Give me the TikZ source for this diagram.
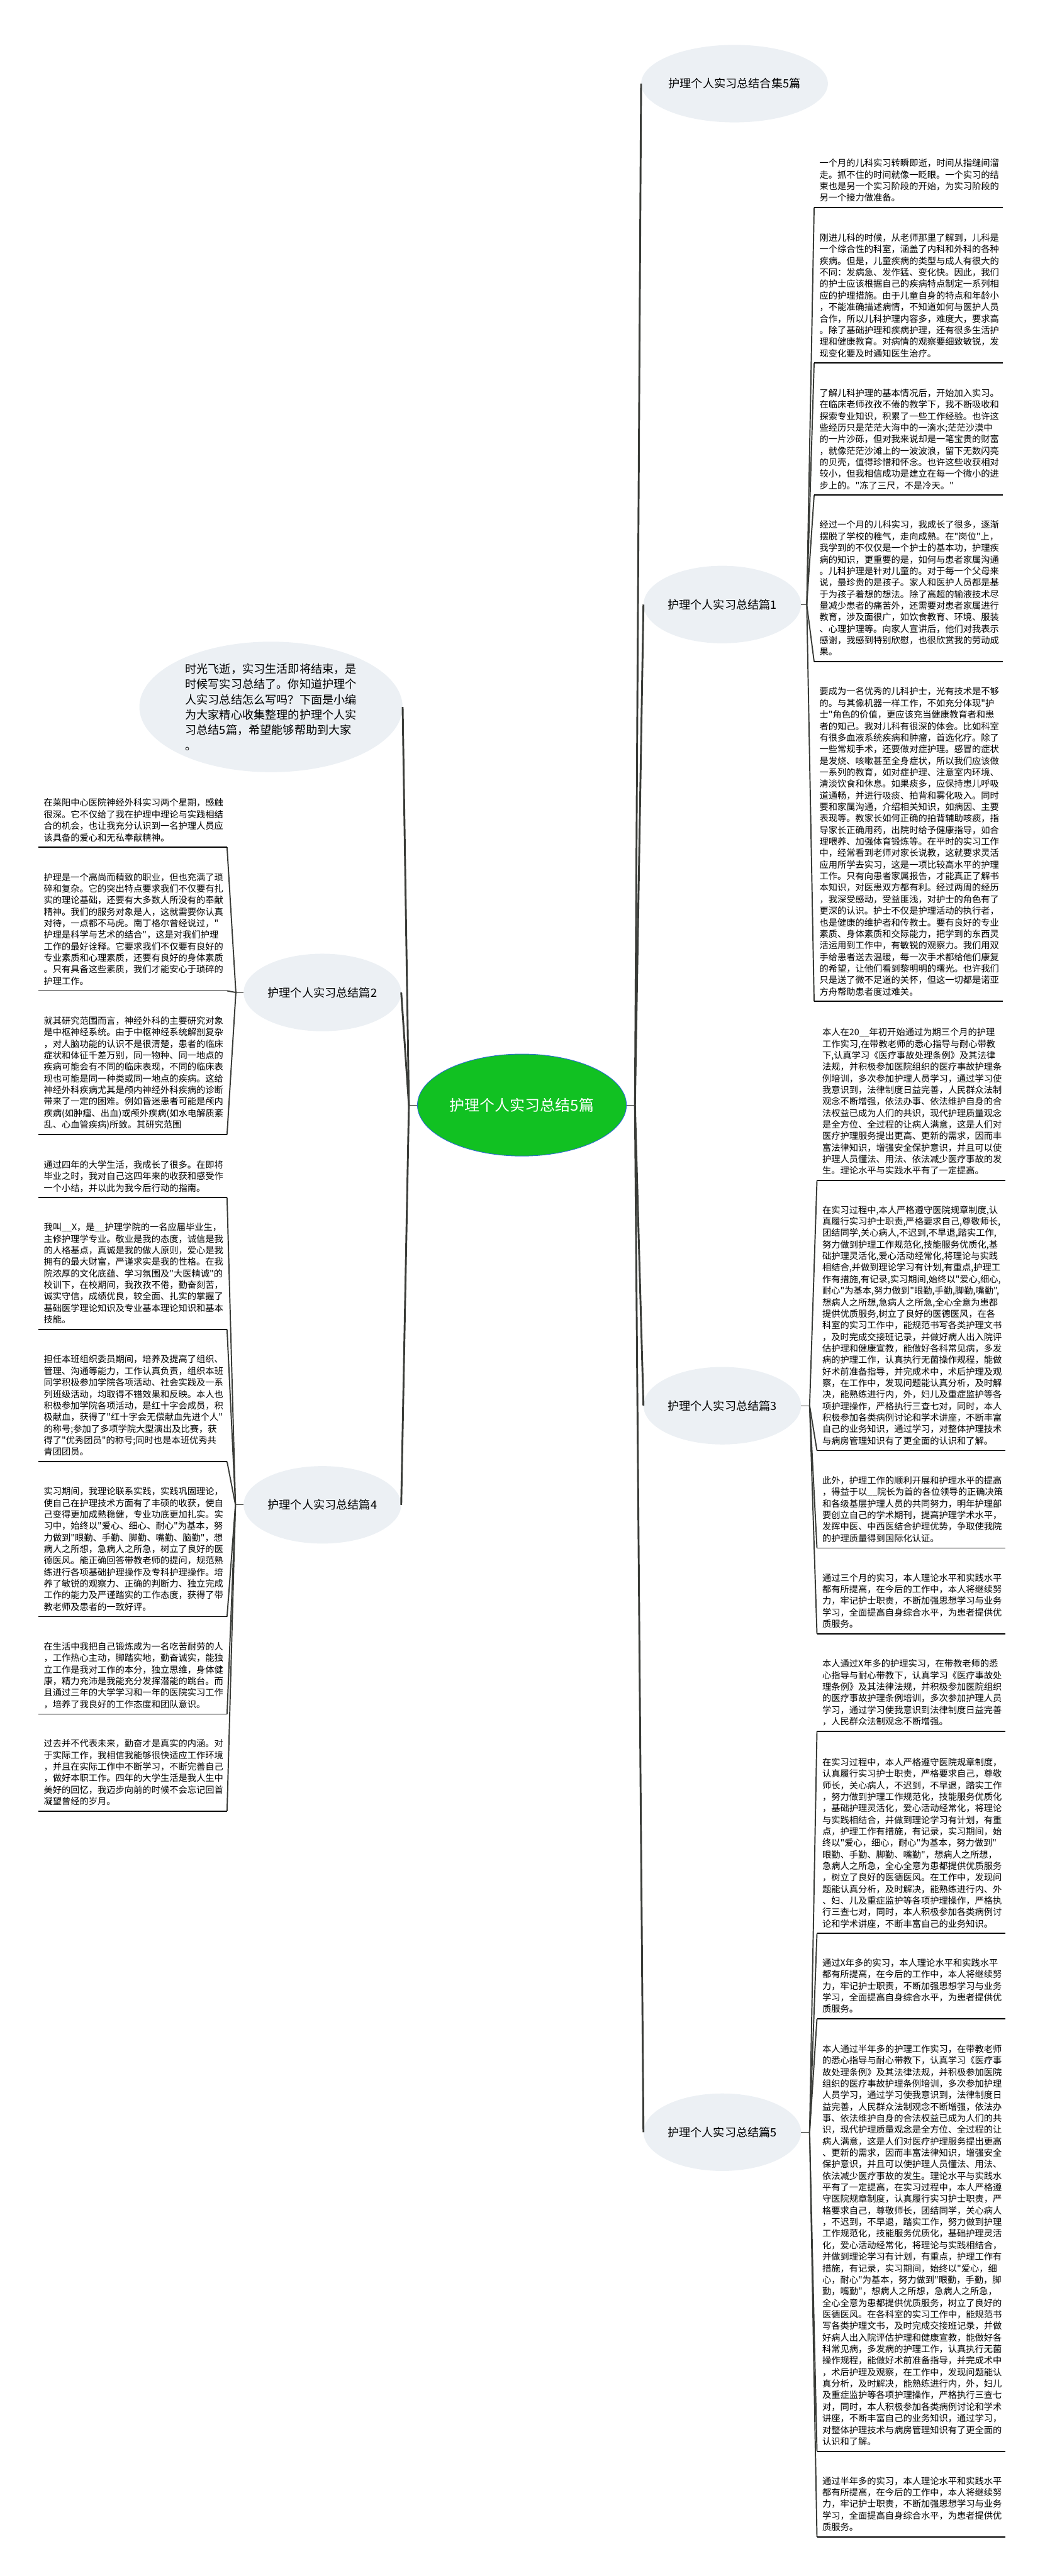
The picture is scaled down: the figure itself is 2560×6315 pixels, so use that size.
\documentclass[tikz,border=0pt]{standalone}
\usepackage{fontspec}
\usepackage{tikz}
\usetikzlibrary{shapes.geometric}
\newfontfamily\cjk{Noto Sans CJK SC}
\definecolor{rootgreen}{RGB}{17,193,34}
\definecolor{rootblue}{RGB}{46,110,210}
\definecolor{bubblegray}{RGB}{236,240,244}
\definecolor{linegray}{RGB}{58,60,56}
\tikzset{
    root-bubble/.style = {ellipse, fill=rootgreen, draw=rootblue, line width=1.5pt, text=white, minimum width=512pt, minimum height=250pt, inner sep=0pt, font=\cjk\fontsize{37pt}{44pt}\selectfont},
    topic-bubble/.style = {ellipse, fill=bubblegray, minimum width=386pt, minimum height=190pt, inner sep=0pt, font=\cjk\fontsize{28pt}{34pt}\selectfont},
    intro-bubble/.style = {ellipse, fill=bubblegray, minimum width=645pt, minimum height=320pt, inner sep=0pt, align=left, font=\cjk\fontsize{28pt}{37.5pt}\selectfont},
    leaf-text/.style = {inner xsep=13pt, inner ysep=7pt, text width=436pt, align=left, font=\cjk\fontsize{22pt}{28.3pt}\selectfont, execute at end node=\strut},
    trunk-line/.style = {draw=linegray, line width=4.5pt},
    leaf-line/.style = {draw=linegray, line width=3pt},
    stub-line/.style = {draw=linegray, line width=1.5pt},
    under-line/.style = {draw=black, line width=3pt},
}

\begin{document}
\begin{tikzpicture}[x=1pt, y=-1pt]
\useasboundingbox (0,0) rectangle (2560,6315);

% root and first level
\node[root-bubble] (root) at (1279,2709) {护理个人实习总结5篇};
\node[intro-bubble] (intro) at (664,1733) {时光飞逝，实习生活即将结束，是\\时候写实习总结了。你知道护理个\\人实习总结怎么写吗？下面是小编\\为大家精心收集整理的护理个人实\\习总结5篇，希望能够帮助到大家\\。};
\node[topic-bubble] (p2) at (790,2433) {护理个人实习总结篇2};
\node[topic-bubble] (p4) at (790,3689) {护理个人实习总结篇4};
\node[topic-bubble, minimum width=446pt] (p0) at (1800,205) {护理个人实习总结合集5篇};
\node[topic-bubble] (p1) at (1770,1482) {护理个人实习总结篇1};
\node[topic-bubble] (p3) at (1770,3446) {护理个人实习总结篇3};
\node[topic-bubble] (p5) at (1770,5227) {护理个人实习总结篇5};

\coordinate (hubL) at (1002,2709);
\coordinate (hubR) at (1556,2709);
\coordinate (hub1) at (1977,1482);
\coordinate (hub3) at (1984,3446);
\coordinate (hub5) at (1984,5227);
\coordinate (hub2) at (578,2433);
\coordinate (hub4) at (577,3689);

% part 1
\node[leaf-text, anchor=south west] (b1) at (1995,509) {一个月的儿科实习转瞬即逝，时间从指缝间溜\\走。抓不住的时间就像一眨眼。一个实习的结\\束也是另一个实习阶段的开始，为实习阶段的\\另一个接力做准备。};
\node[leaf-text, anchor=south west] (b2) at (1995,890) {刚进儿科的时候，从老师那里了解到，儿科是\\一个综合性的科室，涵盖了内科和外科的各种\\疾病。但是，儿童疾病的类型与成人有很大的\\不同：发病急、发作猛、变化快。因此，我们\\的护士应该根据自己的疾病特点制定一系列相\\应的护理措施。由于儿童自身的特点和年龄小\\，不能准确描述病情，不知道如何与医护人员\\合作，所以儿科护理内容多，难度大，要求高\\。除了基础护理和疾病护理，还有很多生活护\\理和健康教育。对病情的观察要细致敏锐，发\\现变化要及时通知医生治疗。};
\node[leaf-text, anchor=south west] (b3) at (1995,1214) {了解儿科护理的基本情况后，开始加入实习。\\在临床老师孜孜不倦的教学下，我不断吸收和\\探索专业知识，积累了一些工作经验。也许这\\些经历只是茫茫大海中的一滴水;茫茫沙漠中\\的一片沙砾，但对我来说却是一笔宝贵的财富\\，就像茫茫沙滩上的一波波浪，留下无数闪亮\\的贝壳，值得珍惜和怀念。也许这些收获相对\\较小，但我相信成功是建立在每一个微小的进\\步上的。"冻了三尺，不是冷天。"};
\node[leaf-text, anchor=south west] (b4) at (1995,1622) {经过一个月的儿科实习，我成长了很多，逐渐\\摆脱了学校的稚气，走向成熟。在"岗位"上，\\我学到的不仅仅是一个护士的基本功，护理疾\\病的知识，更重要的是，如何与患者家属沟通\\。儿科护理是针对儿童的。对于每一个父母来\\说，最珍贵的是孩子。家人和医护人员都是基\\于为孩子着想的想法。除了高超的输液技术尽\\量减少患者的痛苦外，还需要对患者家属进行\\教育，涉及面很广，如饮食教育、环境、服装\\、心理护理等。向家人宣讲后，他们对我表示\\感谢，我感到特别欣慰，也很欣赏我的劳动成\\果。};
\node[leaf-text, anchor=south west] (b5) at (1995,2455) {要成为一名优秀的儿科护士，光有技术是不够\\的。与其像机器一样工作，不如充分体现"护\\士"角色的价值，更应该充当健康教育者和患\\者的知己。我对儿科有很深的体会。比如科室\\有很多血液系统疾病和肿瘤，首选化疗。除了\\一些常规手术，还要做对症护理。感冒的症状\\是发烧、咳嗽甚至全身症状，所以我们应该做\\一系列的教育，如对症护理、注意室内环境、\\清淡饮食和休息。如果痰多，应保持患儿呼吸\\道通畅，并进行吸痰、拍背和雾化吸入。同时\\要和家属沟通，介绍相关知识，如病因、主要\\表现等。教家长如何正确的拍背辅助咳痰，指\\导家长正确用药，出院时给予健康指导，如合\\理喂养、加强体育锻炼等。在平时的实习工作\\中，经常看到老师对家长说教，这就要求灵活\\应用所学去实习，这是一项比较高水平的护理\\工作。只有向患者家属报告，才能真正了解书\\本知识，对医患双方都有利。经过两周的经历\\，我深受感动，受益匪浅，对护士的角色有了\\更深的认识。护士不仅是护理活动的执行者，\\也是健康的维护者和传教士。要有良好的专业\\素质、身体素质和交际能力，把学到的东西灵\\活运用到工作中，有敏锐的观察力。我们用双\\手给患者送去温暖，每一次手术都给他们康复\\的希望，让他们看到黎明明的曙光。也许我们\\只是送了微不足道的关怀，但这一切都是诺亚\\方舟帮助患者度过难关。};

% part 3
\node[leaf-text, anchor=south west] (c1) at (2002,2894) {本人在20\_\_年初开始通过为期三个月的护理\\工作实习,在带教老师的悉心指导与耐心带教\\下,认真学习《医疗事故处理条例》及其法律\\法规，并积极参加医院组织的医疗事故护理条\\例培训，多次参加护理人员学习，通过学习使\\我意识到，法律制度日益完善，人民群众法制\\观念不断增强，依法办事、依法维护自身的合\\法权益已成为人们的共识，现代护理质量观念\\是全方位、全过程的让病人满意，这是人们对\\医疗护理服务提出更高、更新的需求，因而丰\\富法律知识，增强安全保护意识，并且可以使\\护理人员懂法、用法、依法减少医疗事故的发\\生。理论水平与实践水平有了一定提高。};
\node[leaf-text, anchor=south west] (c2) at (2002,3556) {在实习过程中,本人严格遵守医院规章制度,认\\真履行实习护士职责,严格要求自己,尊敬师长,\\团结同学,关心病人,不迟到,不早退,踏实工作,\\努力做到护理工作规范化,技能服务优质化,基\\础护理灵活化,爱心活动经常化,将理论与实践\\相结合,并做到理论学习有计划,有重点,护理工\\作有措施,有记录,实习期间,始终以"爱心,细心,\\耐心"为基本,努力做到"眼勤,手勤,脚勤,嘴勤",\\想病人之所想,急病人之所急,全心全意为患都\\提供优质服务,树立了良好的医德医风，在各\\科室的实习工作中，能规范书写各类护理文书\\，及时完成交接班记录，并做好病人出入院评\\估护理和健康宣教，能做好各科常见病，多发\\病的护理工作，认真执行无菌操作规程，能做\\好术前准备指导，并完成术中，术后护理及观\\察，在工作中，发现问题能认真分析，及时解\\决，能熟练进行内，外，妇儿及重症监护等各\\项护理操作，严格执行三查七对，同时，本人\\积极参加各类病例讨论和学术讲座，不断丰富\\自己的业务知识，通过学习，对整体护理技术\\与病房管理知识有了更全面的认识和了解。};
\node[leaf-text, anchor=south west] (c3) at (2002,3795) {此外，护理工作的顺利开展和护理水平的提高\\，得益于以\_\_院长为首的各位领导的正确决策\\和各级基层护理人员的共同努力，明年护理部\\要创立自己的学术期刊，提高护理学术水平，\\发挥中医、中西医结合护理优势，争取使我院\\的护理质量得到国际化认证。};
\node[leaf-text, anchor=south west] (c4) at (2002,4005) {通过三个月的实习，本人理论水平和实践水平\\都有所提高，在今后的工作中，本人将继续努\\力，牢记护士职责，不断加强思想学习与业务\\学习，全面提高自身综合水平，为患者提供优\\质服务。};

% part 5
\node[leaf-text, anchor=south west] (d1) at (2002,4244) {本人通过X年多的护理实习，在带教老师的悉\\心指导与耐心带教下，认真学习《医疗事故处\\理条例》及其法律法规，并积极参加医院组织\\的医疗事故护理条例培训，多次参加护理人员\\学习，通过学习使我意识到法律制度日益完善\\，人民群众法制观念不断增强。};
\node[leaf-text, anchor=south west] (d2) at (2002,4740) {在实习过程中，本人严格遵守医院规章制度，\\认真履行实习护士职责，严格要求自己，尊敬\\师长，关心病人，不迟到，不早退，踏实工作\\，努力做到护理工作规范化，技能服务优质化\\，基础护理灵活化，爱心活动经常化，将理论\\与实践相结合，并做到理论学习有计划，有重\\点，护理工作有措施，有记录，实习期间，始\\终以"爱心，细心，耐心"为基本，努力做到"\\眼勤、手勤、脚勤、嘴勤"，想病人之所想，\\急病人之所急，全心全意为患都提供优质服务\\，树立了良好的医德医风。在工作中，发现问\\题能认真分析，及时解决，能熟练进行内、外\\、妇、儿及重症监护等各项护理操作，严格执\\行三查七对，同时，本人积极参加各类病例讨\\论和学术讲座，不断丰富自己的业务知识。};
\node[leaf-text, anchor=south west] (d3) at (2002,4949) {通过X年多的实习，本人理论水平和实践水平\\都有所提高，在今后的工作中，本人将继续努\\力，牢记护士职责，不断加强思想学习与业务\\学习，全面提高自身综合水平，为患者提供优\\质服务。};
\node[leaf-text, anchor=south west] (d4) at (2002,6009) {本人通过半年多的护理工作实习，在带教老师\\的悉心指导与耐心带教下，认真学习《医疗事\\故处理条例》及其法律法规，并积极参加医院\\组织的医疗事故护理条例培训，多次参加护理\\人员学习，通过学习使我意识到，法律制度日\\益完善，人民群众法制观念不断增强，依法办\\事、依法维护自身的合法权益已成为人们的共\\识，现代护理质量观念是全方位、全过程的让\\病人满意，这是人们对医疗护理服务提出更高\\、更新的需求，因而丰富法律知识，增强安全\\保护意识，并且可以使护理人员懂法、用法、\\依法减少医疗事故的发生。理论水平与实践水\\平有了一定提高，在实习过程中，本人严格遵\\守医院规章制度，认真履行实习护士职责，严\\格要求自己，尊敬师长，团结同学，关心病人\\，不迟到，不早退，踏实工作，努力做到护理\\工作规范化，技能服务优质化，基础护理灵活\\化，爱心活动经常化，将理论与实践相结合，\\并做到理论学习有计划，有重点，护理工作有\\措施，有记录，实习期间，始终以"爱心，细\\心，耐心"为基本，努力做到"眼勤，手勤，脚\\勤，嘴勤"，想病人之所想，急病人之所急，\\全心全意为患都提供优质服务，树立了良好的\\医德医风。在各科室的实习工作中，能规范书\\写各类护理文书，及时完成交接班记录，并做\\好病人出入院评估护理和健康宣教，能做好各\\科常见病，多发病的护理工作，认真执行无菌\\操作规程，能做好术前准备指导，并完成术中\\，术后护理及观察，在工作中，发现问题能认\\真分析，及时解决，能熟练进行内，外，妇儿\\及重症监护等各项护理操作，严格执行三查七\\对，同时，本人积极参加各类病例讨论和学术\\讲座，不断丰富自己的业务知识，通过学习，\\对整体护理技术与病房管理知识有了更全面的\\认识和了解。};
\node[leaf-text, anchor=south west] (d5) at (2002,6219) {通过半年多的实习，本人理论水平和实践水平\\都有所提高，在今后的工作中，本人将继续努\\力，牢记护士职责，不断加强思想学习与业务\\学习，全面提高自身综合水平，为患者提供优\\质服务。};

% part 2
\node[leaf-text, anchor=south west] (l1) at (94,2077) {在莱阳中心医院神经外科实习两个星期，感触\\很深。它不仅给了我在护理中理论与实践相结\\合的机会，也让我充分认识到一名护理人员应\\该具备的爱心和无私奉献精神。};
\node[leaf-text, anchor=south west] (l2) at (94,2429) {护理是一个高尚而精致的职业，但也充满了琐\\碎和复杂。它的突出特点要求我们不仅要有扎\\实的理论基础，还要有大多数人所没有的奉献\\精神。我们的服务对象是人，这就需要你认真\\对待，一点都不马虎。南丁格尔曾经说过，"\\护理是科学与艺术的结合"，这是对我们护理\\工作的最好诠释。它要求我们不仅要有良好的\\专业素质和心理素质，还要有良好的身体素质\\。只有具备这些素质，我们才能安心于琐碎的\\护理工作。};
\node[leaf-text, anchor=south west] (l3) at (94,2781) {就其研究范围而言，神经外科的主要研究对象\\是中枢神经系统。由于中枢神经系统解剖复杂\\，对人脑功能的认识不是很清楚，患者的临床\\症状和体征千差万别，同一物种、同一地点的\\疾病可能会有不同的临床表现，不同的临床表\\现也可能是同一种类或同一地点的疾病。这给\\神经外科疾病尤其是颅内神经外科疾病的诊断\\带来了一定的困难。例如昏迷患者可能是颅内\\疾病(如肿瘤、出血)或颅外疾病(如水电解质紊\\乱、心血管疾病)所致。其研究范围};

% part 4
\node[leaf-text, anchor=south west] (l4) at (94,2936) {通过四年的大学生活，我成长了很多。在即将\\毕业之时，我对自己这四年来的收获和感受作\\一个小结，并以此为我今后行动的指南。};
\node[leaf-text, anchor=south west] (l5) at (94,3259) {我叫\_\_X，是\_\_护理学院的一名应届毕业生，\\主修护理学专业。敬业是我的态度，诚信是我\\的人格基点，真诚是我的做人原则，爱心是我\\拥有的最大财富，严谨求实是我的性格。在我\\院浓厚的文化底蕴、学习氛围及"大医精诚"的\\校训下，在校期间，我孜孜不倦，勤奋刻苦，\\诚实守信，成绩优良，较全面、扎实的掌握了\\基础医学理论知识及专业基本理论知识和基本\\技能。};
\node[leaf-text, anchor=south west] (l6) at (94,3583) {担任本班组织委员期间，培养及提高了组织、\\管理、沟通等能力，工作认真负责，组织本班\\同学积极参加学院各项活动、社会实践及一系\\列班级活动，均取得不错效果和反映。本人也\\积极参加学院各项活动，是红十字会成员，积\\极献血，获得了"红十字会无偿献血先进个人"\\的称号;参加了多项学院大型演出及比赛，获\\得了"优秀团员"的称号;同时也是本班优秀共\\青团团员。};
\node[leaf-text, anchor=south west] (l7) at (94,3963) {实习期间，我理论联系实践，实践巩固理论，\\使自己在护理技术方面有了丰硕的收获，使自\\己变得更加成熟稳健，专业功底更加扎实。实\\习中，始终以"爱心、细心、耐心"为基本，努\\力做到"眼勤、手勤、脚勤、嘴勤、脑勤"，想\\病人之所想，急病人之所急，树立了良好的医\\德医风。能正确回答带教老师的提问，规范熟\\练进行各项基础护理操作及专科护理操作。培\\养了敏锐的观察力、正确的判断力、独立完成\\工作的能力及严谨踏实的工作态度，获得了带\\教老师及患者的一致好评。};
\node[leaf-text, anchor=south west] (l8) at (94,4202) {在生活中我把自己锻炼成为一名吃苦耐劳的人\\，工作热心主动，脚踏实地，勤奋诚实，能独\\立工作是我对工作的本分，独立思维，身体健\\康，精力充沛是我能充分发挥潜能的跳台。而\\且通过三年的大学学习和一年的医院实习工作\\，培养了我良好的工作态度和团队意识。};
\node[leaf-text, anchor=south west] (l9) at (94,4440) {过去并不代表未来，勤奋才是真实的内涵。对\\于实际工作，我相信我能够很快适应工作环境\\，并且在实际工作中不断学习，不断完善自己\\，做好本职工作。四年的大学生活是我人生中\\美好的回忆，我迈步向前的时候不会忘记回首\\凝望曾经的岁月。};

% connectors
\draw[stub-line] (root.west) -- (hubL);
\draw[stub-line] (root.east) -- (hubR);
\foreach \t in {intro,p2,p4}
    \draw[trunk-line] (hubL) -- (\t.east);
\foreach \t in {p0,p1,p3,p5}
    \draw[trunk-line] (hubR) -- (\t.west);

\draw[stub-line] (p1.east) -- (hub1);
\draw[stub-line] (p3.east) -- (hub3);
\draw[stub-line] (p5.east) -- (hub5);
\draw[stub-line] (p2.west) -- (hub2);
\draw[stub-line] (p4.west) -- (hub4);

\foreach \b in {b1,b2,b3,b4,b5}
    \draw[leaf-line] (hub1) -- (\b.south west);
\foreach \b in {c1,c2,c3,c4}
    \draw[leaf-line] (hub3) -- (\b.south west);
\foreach \b in {d1,d2,d3,d4,d5}
    \draw[leaf-line] (hub5) -- (\b.south west);
\foreach \b in {l1,l2,l3}
    \draw[leaf-line] (hub2) -- (\b.south east);
\foreach \b in {l4,l5,l6,l7,l8,l9}
    \draw[leaf-line] (hub4) -- (\b.south east);

\foreach \b in {b1,b2,b3,b4,b5,c1,c2,c3,c4,d1,d2,d3,d4,d5,l1,l2,l3,l4,l5,l6,l7,l8,l9}
    \draw[under-line] (\b.south west) -- (\b.south east);
\end{tikzpicture}
\end{document}
